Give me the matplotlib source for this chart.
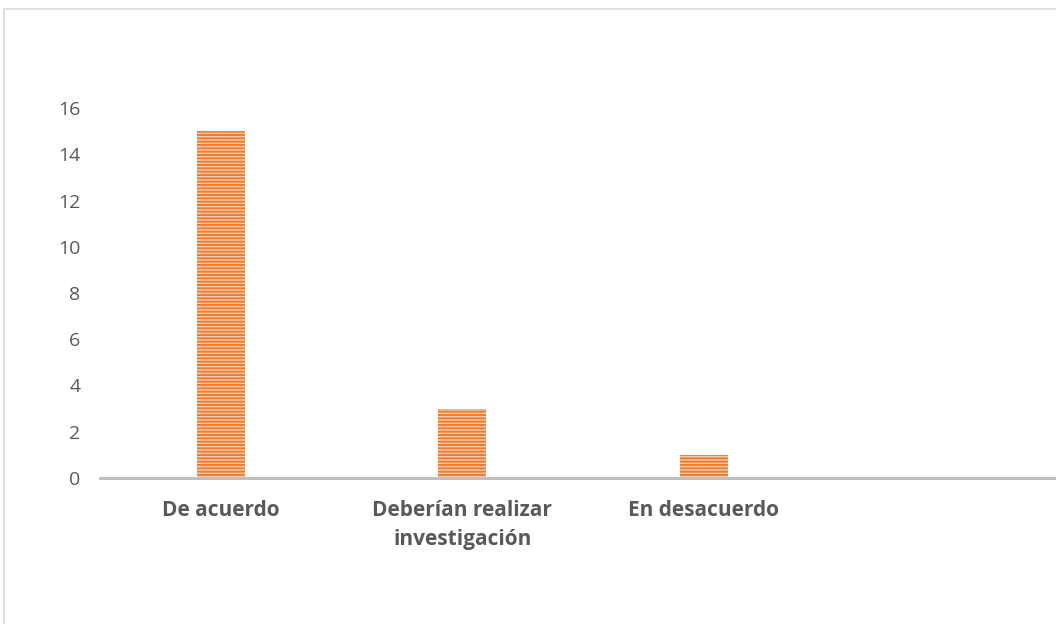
import matplotlib.pyplot as plt
from matplotlib.patches import Rectangle

# chart data
categories = ['De acuerdo', 'Deberían realizar\ninvestigación', 'En desacuerdo', '']
values = [15, 3, 1, 0]
yticks = [0, 2, 4, 6, 8, 10, 12, 14, 16]

plt.rcParams['font.family'] = ['Open Sans', 'DejaVu Sans']
plt.rcParams['hatch.linewidth'] = 1.4
plt.rcParams['hatch.color'] = '#ed7d31'

W, H = 1056, 624
fig = plt.figure(figsize=(W / 100, H / 100), dpi=100)

# outer chart frame (cut off at right and bottom)
fig.patches.append(Rectangle((4 / W, -0.1), 1.2, 1 - 9 / H + 0.1,
                             transform=fig.transFigure, fill=False,
                             edgecolor='#d9d9d9', linewidth=1.2))

left, right = 100 / W, 1066 / W
bottom, top = 1 - 478 / H, 1 - 108 / H
ax = fig.add_axes([left, bottom, right - left, top - bottom])

x = range(len(categories))
ax.bar(x, values, width=0.2, color='#f8cbad', edgecolor='#ed7d31',
       hatch='-----', linewidth=0)

ax.set_xlim(-0.5, len(categories) - 0.5)
ax.set_ylim(0, 16)
ax.set_yticks(yticks)
ax.set_xticks(list(x))
ax.set_xticklabels(categories, fontweight='bold', fontsize=15, color='#595959',
                   linespacing=1.55)
ax.tick_params(axis='y', length=0, labelsize=14, labelcolor='#595959', pad=14)
ax.tick_params(axis='x', length=0, pad=15.5)

for s in ['top', 'right', 'left']:
    ax.spines[s].set_visible(False)
ax.spines['bottom'].set_color('#bfbfbf')
ax.spines['bottom'].set_linewidth(2.2)
ax.patch.set_alpha(0)

fig.savefig('out.png', dpi=100)
